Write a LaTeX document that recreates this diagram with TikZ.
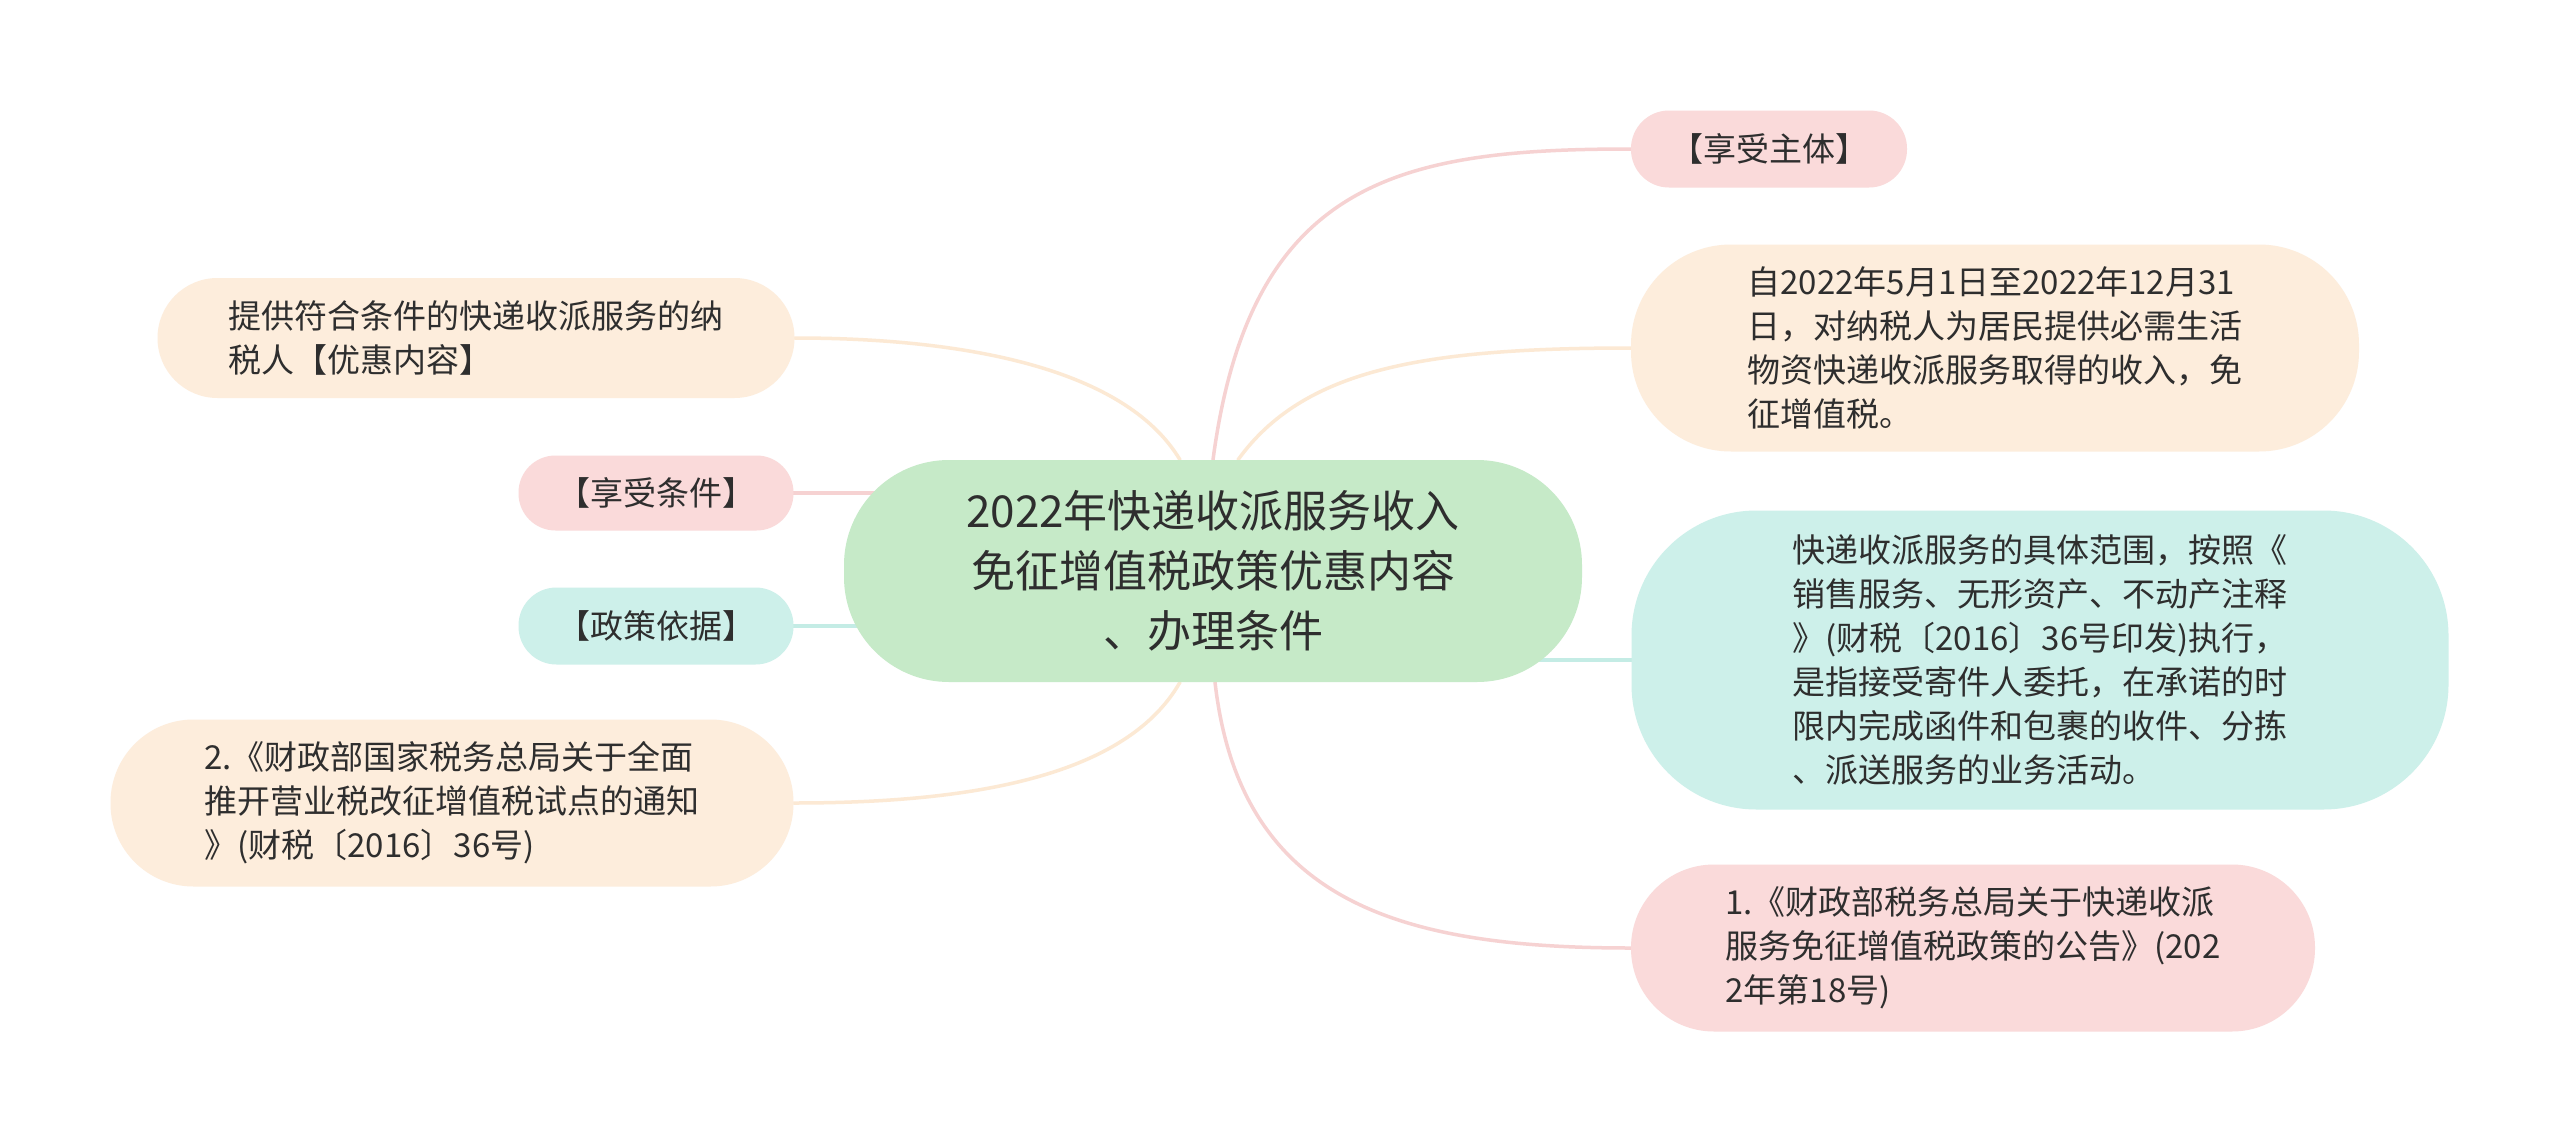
\documentclass[tikz,border=0pt]{standalone}
\usepackage{fontspec}
\setmainfont{Noto Sans CJK SC}
\usetikzlibrary{calc,backgrounds}
\definecolor{pinkF}{HTML}{FADADA}
\definecolor{peachF}{HTML}{FDEDDC}
\definecolor{tealF}{HTML}{CDF0EA}
\definecolor{greenF}{HTML}{C6EAC8}
\definecolor{pinkL}{HTML}{F6D2D2}
\definecolor{peachL}{HTML}{FCE9D4}
\definecolor{tealL}{HTML}{C4ECE5}
\definecolor{txt}{HTML}{2E2E2E}
\begin{document}
\begin{tikzpicture}[x=1pt,y=-1pt,
  box/.style={rectangle, align=left, text=txt, inner sep=0pt,
    font=\fontsize{33}{44}\selectfont},
  pinkbox/.style={box, fill=pinkF},
  peachbox/.style={box, fill=peachF},
  tealbox/.style={box, fill=tealF},
  mainbox/.style={rectangle, align=center, text=txt, inner sep=0pt, fill=greenF,
    font=\fontsize{44}{60}\selectfont},
  link/.style={line width=3.5pt, line cap=round}]
\useasboundingbox (0,0) rectangle (2560,1143);

% central node
\node[mainbox, minimum width=738pt, minimum height=222pt, rounded corners=105pt] (M) at (1213,571)
  {2022年快递收派服务收入\\免征增值税政策优惠内容\\、办理条件};

% right side
\node[pinkbox, minimum width=276pt, minimum height=77pt, rounded corners=38pt] (A) at (1769,149)
  {【享受主体】};
\node[peachbox, minimum width=728pt, minimum height=207pt, rounded corners=100pt] (B) at (1995,348)
  {自2022年5月1日至2022年12月31\\日，对纳税人为居民提供必需生活\\物资快递收派服务取得的收入，免\\征增值税。};
\node[tealbox, minimum width=817pt, minimum height=299pt, rounded corners=125pt] (C) at (2040,660)
  {快递收派服务的具体范围，按照《\\销售服务、无形资产、不动产注释\\》(财税〔2016〕36号印发)执行，\\是指接受寄件人委托，在承诺的时\\限内完成函件和包裹的收件、分拣\\、派送服务的业务活动。};
\node[pinkbox, minimum width=684pt, minimum height=167pt, rounded corners=83pt] (D) at (1973,948)
  {1.《财政部税务总局关于快递收派\\服务免征增值税政策的公告》(202\\2年第18号)};

% left side
\node[peachbox, minimum width=637pt, minimum height=120pt, rounded corners=60pt] (E) at (476,338)
  {提供符合条件的快递收派服务的纳\\税人【优惠内容】};
\node[pinkbox, minimum width=275pt, minimum height=75pt, rounded corners=37pt] (F) at (656,493)
  {【享受条件】};
\node[tealbox, minimum width=275pt, minimum height=77pt, rounded corners=38pt] (G) at (656,626)
  {【政策依据】};
\node[peachbox, minimum width=683pt, minimum height=167pt, rounded corners=83pt] (H) at (452,803)
  {2.《财政部国家税务总局关于全面\\推开营业税改征增值税试点的通知\\》(财税〔2016〕36号)};

\begin{pgfonlayer}{background}
  \fill[white] (0,0) rectangle (2560,1143);
  % right connectors
  \draw[link, pinkL] (M.north) .. controls ($(M.north)+(37,-280)$) and ($(A.west)+(-231,0)$) .. (A.west);
  \draw[link, peachL] ($(M.north)+(25,0)$) .. controls ($(M.north)+(90,-90)$) and ($(B.west)+(-210,0)$) .. (B.west);
  \draw[link, tealL] (C.west) -- (M.center |- C.west);
  \draw[link, pinkL] ($(M.south)+(2,0)$) .. controls ($(M.south)+(27,220)$) and ($(D.west)+(-231,0)$) .. (D.west);
  % left connectors
  \draw[link, peachL] ($(M.north)+(-33,0)$) .. controls ($(M.north)+(-90,-95)$) and ($(E.east)+(160,0)$) .. (E.east);
  \draw[link, pinkL] (F.east) -- (M.center |- F.east);
  \draw[link, tealL] (G.east) -- (M.center |- G.east);
  \draw[link, peachL] ($(M.south)+(-33,0)$) .. controls ($(M.south)+(-90,100)$) and ($(H.east)+(160,0)$) .. (H.east);
\end{pgfonlayer}
\end{tikzpicture}
\end{document}
